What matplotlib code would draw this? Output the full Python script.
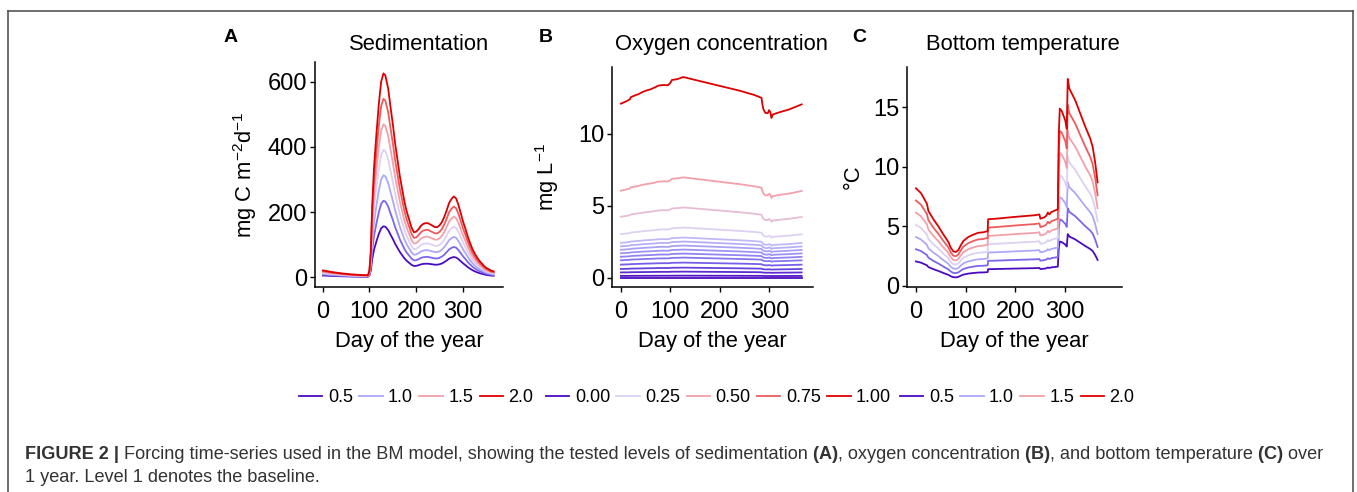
import numpy as np
import matplotlib
matplotlib.use("Agg")
import matplotlib.pyplot as plt
from matplotlib.colors import LinearSegmentedColormap, TwoSlopeNorm
from matplotlib.lines import Line2D

plt.rcParams['font.family'] = ['Liberation Sans', 'DejaVu Sans']
plt.rcParams['mathtext.fontset'] = 'custom'
plt.rcParams['mathtext.rm'] = 'Liberation Sans'
plt.rcParams['mathtext.it'] = 'Liberation Sans'
plt.rcParams['mathtext.bf'] = 'Liberation Sans:bold'

# ---- data (level 1 = baseline forcing) ----
sed_day = [1, 20, 40, 60, 80, 97, 100, 103, 106, 110, 115, 120, 125, 130, 134, 140,
           145, 150, 155, 160, 165, 170, 175, 180, 185, 190, 195, 200, 205, 210, 215,
           220, 225, 230, 235, 240, 245, 250, 255, 260, 265, 270, 275, 280, 285, 290,
           295, 300, 305, 310, 315, 320, 325, 330, 335, 340, 345, 350, 355, 360, 365]
sed_base = [10.5, 8, 6, 4.5, 3.5, 3, 10, 40, 110, 170, 220, 265, 300, 313, 310, 290,
            262, 235, 205, 180, 155, 135, 115, 100, 88, 76, 69, 70, 74, 79, 82,
            83, 83, 81, 79, 77, 77, 80, 85, 93, 103, 114, 120, 124, 121, 111,
            98, 85, 74, 62, 52, 43, 36, 30, 25, 21, 17, 14, 12, 10, 9]
sed_levels = [0.5, 0.75, 1.0, 1.25, 1.5, 1.75, 2.0]

oxy_day = [0, 10, 18, 20, 30, 35, 40, 50, 60, 70, 75, 85, 95, 100, 103, 110, 118, 125,
           130, 150, 180, 210, 240, 270, 284, 286, 288, 292, 297, 299, 302, 304, 307,
           320, 340, 365]
oxy_base = [12.1, 12.25, 12.4, 12.55, 12.7, 12.75, 12.85, 13.0, 13.1, 13.25, 13.35, 13.4,
            13.38, 13.55, 13.75, 13.78, 13.85, 13.95, 13.92, 13.75, 13.5, 13.25, 13.0,
            12.7, 12.5, 12.0, 11.7, 11.45, 11.45, 11.65, 11.5, 11.1, 11.35, 11.5, 11.7,
            12.05]
oxy_levels = [0.0, 0.01, 0.03, 0.05, 0.075, 0.1, 0.12, 0.14, 0.16, 0.18, 0.2, 0.25,
              0.35, 0.5, 1.0]

tmp_day = [0, 10, 18, 22, 25, 35, 45, 55, 65, 70, 75, 80, 85, 90, 95, 105, 115, 125,
           135, 144, 145, 160, 200, 240, 248, 250, 258, 262, 265, 268, 272, 285, 287,
           289, 293, 300, 303, 305, 308, 320, 340, 350, 355, 360, 365]
tmp_base = [4.1, 3.9, 3.6, 3.45, 3.15, 2.8, 2.5, 2.16, 1.85, 1.6, 1.45, 1.42, 1.5, 1.7,
            1.88, 2.05, 2.15, 2.23, 2.25, 2.3, 2.8, 2.82, 2.9, 2.97, 3.0, 2.82, 2.88,
            2.95, 3.08, 3.0, 3.1, 3.22, 6.4, 7.45, 7.35, 6.95, 6.6, 8.7, 8.3, 7.8, 6.7,
            6.2, 5.85, 5.2, 4.35]
tmp_levels = [0.5, 0.75, 1.0, 1.25, 1.5, 1.75, 2.0]

half_breaks = [0.5, 1.0, 1.5, 2.0]
half_labels = ['0.5', '1.0', '1.5', '2.0']
oxy_breaks = [0.0, 0.25, 0.5, 0.75, 1.0]
oxy_labels = ['0.00', '0.25', '0.50', '0.75', '1.00']

cmap = LinearSegmentedColormap.from_list('pr', [
    (0.0, '#4B0BC0'), (0.167, '#7C68EE'), (0.333, '#ADA8F8'), (0.5, '#DCD2F4'),
    (0.667, '#F2A0AA'), (0.833, '#EE5C5E'), (1.0, '#DD0000')])

W, H = 1357, 492
fig = plt.figure(figsize=(W / 100, H / 100), dpi=100)
FS = 15.8
TICK_FS = 17


def add_ax(l, r, t, b):
    return fig.add_axes([l / W, 1 - b / H, (r - l) / W, (b - t) / H])


panels = [
    dict(box=(315, 503, 62, 287), day=sed_day, base=sed_base, levels=sed_levels,
         norm=TwoSlopeNorm(1.25, 0.5, 2.0), xlim=(-16, 385), ylim=(-30, 661),
         yticks=[0, 200, 400, 600], title='Sedimentation', title_x=419, tag='A', tag_x=231,
         ylab=r'mg C m$^{\mathrm{-2}}$d$^{\mathrm{-1}}$', ylab_x=245),
    dict(box=(612, 813, 67, 287), day=oxy_day, base=oxy_base, levels=oxy_levels,
         norm=TwoSlopeNorm(0.25, 0.0, 1.0), xlim=(-18, 388), ylim=(-0.65, 14.65),
         yticks=[0, 5, 10], title='Oxygen concentration', title_x=721, tag='B', tag_x=546,
         ylab=r'mg L$^{\mathrm{-1}}$', ylab_x=547),
    dict(box=(907, 1122, 67, 287), day=tmp_day, base=tmp_base, levels=tmp_levels,
         norm=TwoSlopeNorm(1.25, 0.5, 2.0), xlim=(-18, 414), ylim=(-0.1, 18.4),
         yticks=[0, 5, 10, 15], title='Bottom temperature', title_x=1023, tag='C', tag_x=859,
         ylab='°C', ylab_x=853),
]

for p in panels:
    ax = add_ax(*p['box'])
    day = np.array(p['day'])
    base = np.array(p['base'])
    for lev in p['levels']:
        ax.plot(day, base * lev, color=cmap(p['norm'](lev)), lw=1.3)
    ax.set_xlim(*p['xlim'])
    ax.set_ylim(*p['ylim'])
    ax.set_xticks([0, 100, 200, 300])
    ax.set_yticks(p['yticks'])
    for s in ['top', 'right']:
        ax.spines[s].set_visible(False)
    for s in ['left', 'bottom']:
        ax.spines[s].set_linewidth(1.1)
    ax.tick_params(labelsize=TICK_FS, length=3.5, width=1.0, colors='black')
    ax.tick_params(axis='x', pad=6.5)
    ax.tick_params(axis='y', pad=2)
    ax.set_xlabel('Day of the year', fontsize=FS, labelpad=5.5)
    l, r, t, b = p['box']
    fig.text(p['title_x'] / W, 1 - 50 / H, p['title'], fontsize=FS, ha='center', va='baseline')
    fig.text(p['tag_x'] / W, 1 - 38 / H, p['tag'], fontsize=14, fontweight='bold',
             ha='center', va='center')
    fig.text(p['ylab_x'] / W, 1 - ((t + b) / 2) / H, p['ylab'], fontsize=FS,
             rotation=90, ha='center', va='center')

# ---- legends ----
def add_legend(breaks, labels, norm, x0):
    handles = [Line2D([], [], color=cmap(norm(v)), lw=1.3) for v in breaks]
    fig.legend(handles, labels, loc='center left', bbox_to_anchor=(x0 / W, 1 - 398 / H),
               ncol=len(breaks), frameon=False, fontsize=13, handlelength=1.3,
               handletextpad=0.3, columnspacing=0.35, borderpad=0, borderaxespad=0)


add_legend(half_breaks, half_labels, panels[0]['norm'], 299)
add_legend(oxy_breaks, oxy_labels, panels[1]['norm'], 546)
add_legend(half_breaks, half_labels, panels[2]['norm'], 900)

# ---- frame ----
for xs, ys in [([8, 8], [H, 11]), ([8, 1353], [11, 11]), ([1353, 1353], [11, H])]:
    fig.add_artist(Line2D([x / W for x in xs], [1 - y / H for y in ys], color='#555555', lw=1.2))

# ---- caption ----
renderer = fig.canvas.get_renderer()


def rich_line(parts, x, y, size):
    for txt, bold in parts:
        t = fig.text(x / W, 1 - y / H, txt, fontsize=size, color='#333333',
                     fontweight='bold' if bold else 'normal', va='baseline', ha='left')
        x += t.get_window_extent(renderer=renderer).width


cap1 = [('FIGURE 2 |', True), (' Forcing time-series used in the BM model, showing the tested levels of sedimentation', False),
        (' (A)', True), (', oxygen concentration', False), (' (B)', True),
        (', and bottom temperature', False), (' (C)', True), (' over', False)]
cap2 = [('1 year. Level 1 denotes the baseline.', False)]
rich_line(cap1, 25, 459, 13.1)
rich_line(cap2, 25, 482, 13.1)

fig.savefig('out.png', dpi=100)
